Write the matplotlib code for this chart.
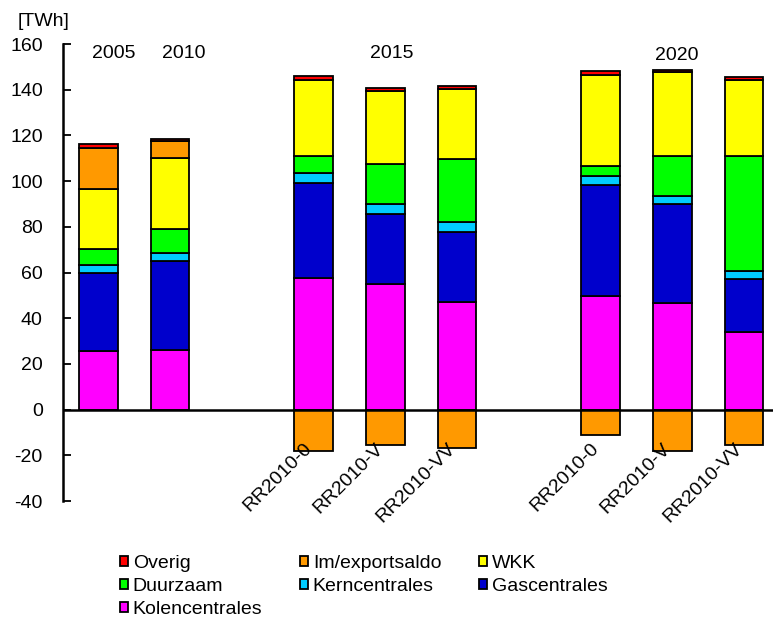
import matplotlib

matplotlib.use("Agg")
import matplotlib.pyplot as plt  # noqa: E402
import numpy as np  # noqa: E402
from matplotlib.patches import Patch  # noqa: E402

plt.rcParams["font.family"] = ["Liberation Sans", "DejaVu Sans"]
plt.rcParams["axes.unicode_minus"] = False

# bar order: 2005, 2010, 2015 (3 scenarios), 2020 (3 scenarios)
positions = [0, 1, 3, 4, 5, 7, 8, 9]
scenario_labels = ["", "", "RR2010-0", "RR2010-V", "RR2010-VV",
                   "RR2010-0", "RR2010-V", "RR2010-VV"]
year_labels = ["2005", "2010", "2015", "2020"]

kolen = [25.5, 26.2, 57.8, 54.8, 47.3, 49.7, 46.5, 34.0]
gas = [34.2, 38.9, 41.5, 31.0, 30.5, 48.8, 43.3, 23.0]
kern = [3.7, 3.6, 4.3, 4.4, 4.4, 3.6, 3.6, 3.6]
duurzaam = [6.8, 10.4, 7.6, 17.3, 27.5, 4.4, 17.8, 50.6]
wkk = [26.5, 31.0, 33.2, 31.8, 30.6, 40.1, 36.4, 33.2]
imexport = [17.9, 7.4, -18.0, -15.5, -17.0, -11.0, -18.0, -15.5]
overig = [1.5, 0.9, 1.4, 1.4, 1.2, 1.4, 1.2, 1.0]

colors = {
    "Overig": "#ff0000",
    "Im/exportsaldo": "#ff9900",
    "WKK": "#ffff00",
    "Duurzaam": "#00ff00",
    "Kerncentrales": "#00ccff",
    "Gascentrales": "#0000cc",
    "Kolencentrales": "#ff00ff",
}

FS = 14

fig = plt.figure(figsize=(7.73, 6.19), dpi=100)
ax = fig.add_axes([0.0815, 0.1906, 0.918, 0.7383])

x = np.array(positions, dtype=float)
w = 0.54
bottom = np.zeros(len(x))
imp = np.array(imexport)
imp_pos = np.where(imp > 0, imp, 0)
imp_neg = np.where(imp < 0, imp, 0)

stack = [
    ("Kolencentrales", np.array(kolen)),
    ("Gascentrales", np.array(gas)),
    ("Kerncentrales", np.array(kern)),
    ("Duurzaam", np.array(duurzaam)),
    ("WKK", np.array(wkk)),
    ("Im/exportsaldo", imp_pos),
    ("Overig", np.array(overig)),
]
for name, vals in stack:
    mask = vals > 0
    ax.bar(x[mask], vals[mask], w, bottom=bottom[mask], color=colors[name],
           edgecolor="black", linewidth=1.3, zorder=2)
    bottom = bottom + vals

neg = imp_neg < 0
ax.bar(x[neg], imp_neg[neg], w, color=colors["Im/exportsaldo"],
       edgecolor="black", linewidth=1.3, zorder=2)

ax.axhline(0, color="black", lw=1.8, zorder=3)

ax.set_xlim(-0.49, 9.4)
ax.set_ylim(-40, 160)
ax.set_yticks(np.arange(-40, 161, 20))
ax.tick_params(axis="y", labelsize=FS, direction="in", length=6, width=1.3,
               pad=14.5)
ax.set_xticks([])
for s in ["top", "right", "bottom"]:
    ax.spines[s].set_visible(False)
ax.spines["left"].set_linewidth(1.8)

# scenario labels
for xi, lab in zip(x, scenario_labels):
    if lab:
        ax.text(xi - 0.06, -16, lab, rotation=45, rotation_mode="anchor",
                ha="right", va="center", fontsize=FS, zorder=4)

# year labels
year_x = [0.22, 1.19, 4.09, 8.07]
year_y = [155.7, 155.7, 155.7, 154.9]
for xi, yi, lab in zip(year_x, year_y, year_labels):
    ax.text(xi, yi, lab, ha="center", va="center", fontsize=FS)

fig.text(44 / 773, 1 - 21 / 619, "[TWh]", ha="center", va="center", fontsize=FS)

# legend: row-wise ordering via column-major handles
order = ["Overig", "Duurzaam", "Kolencentrales", "Im/exportsaldo",
         "Kerncentrales", "WKK", "Gascentrales"]
handles = [Patch(facecolor=colors[n], edgecolor="black", linewidth=1.3, label=n)
           for n in order]
fig.legend(handles=handles, ncol=3, loc="upper left",
           bbox_to_anchor=(120 / 773, 1 - 555 / 619), frameon=False,
           fontsize=FS, handlelength=0.4, handleheight=0.4, handletextpad=0.25,
           labelspacing=0.3, columnspacing=1.95, borderaxespad=0, borderpad=0)

fig.savefig("out.png", dpi=100)
